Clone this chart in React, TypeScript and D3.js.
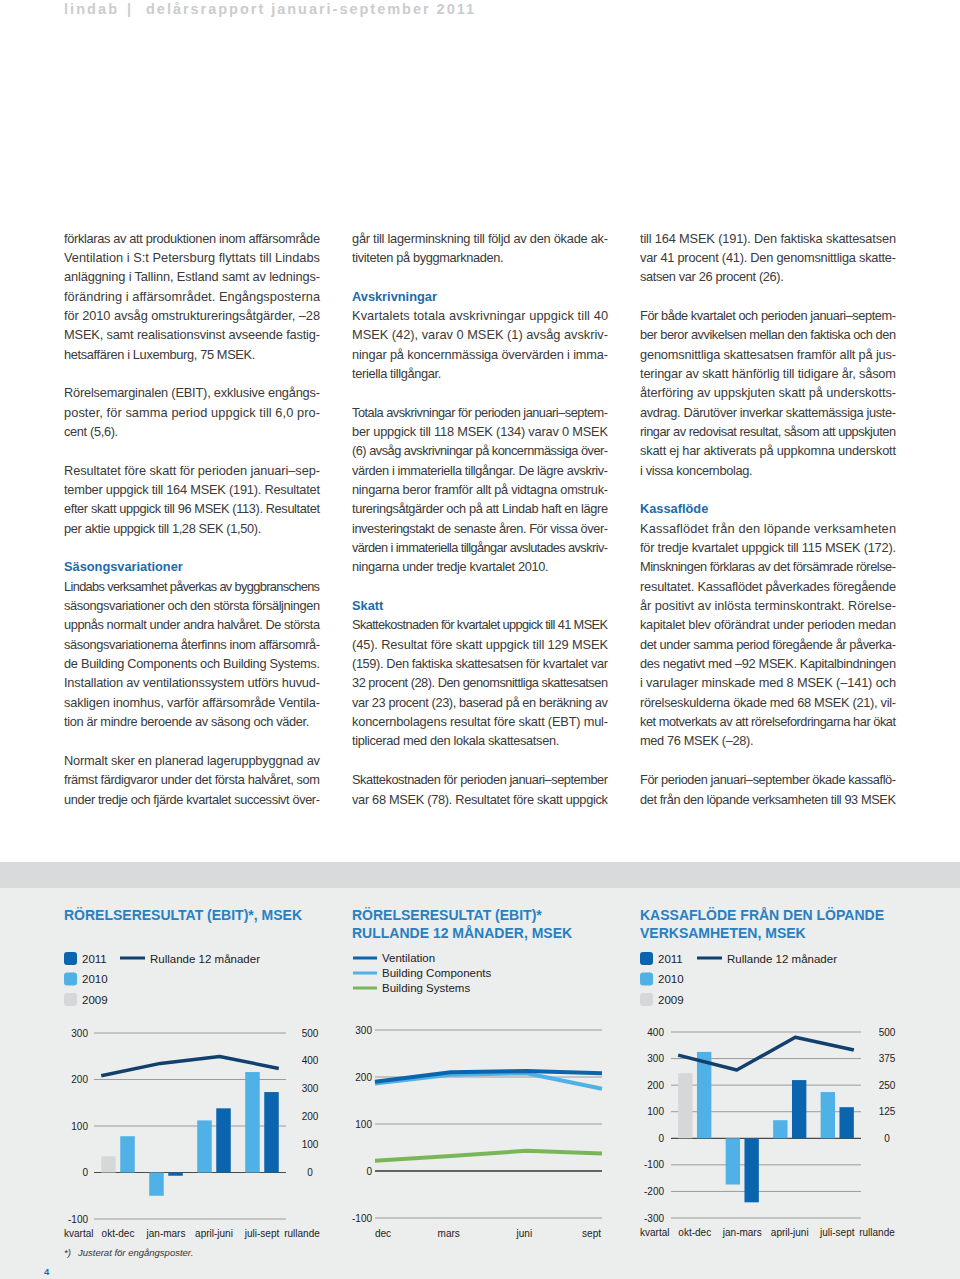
import React from "react";
import * as d3 from "d3";

// ---- chart data ----
const quarters = ["okt-dec", "jan-mars", "april-juni", "juli-sept"];

const ebit2009 = [35, null, null, null];
const ebit2010 = [78, -50, 112, 216];
const ebit2011 = [null, -7, 138, 173];
const ebitRolling = [347, 391, 416, 373];
const ebitLeftTicks = [-100, 0, 100, 200, 300];
const ebitRightTicks = [0, 100, 200, 300, 400, 500];

const months = ["dec", "mars", "juni", "sept"];
const ventilation = [190, 210, 213, 208];
const buildingComponents = [186, 205, 208, 175];
const buildingSystems = [22, 32, 43, 37];
const segmentTicks = [-100, 0, 100, 200, 300];

const cf2009 = [245, null, null, null];
const cf2010 = [325, -174, 68, 174];
const cf2011 = [null, -241, 219, 117];
const cfRolling = [391, 321, 475, 415];
const cfLeftTicks = [-300, -200, -100, 0, 100, 200, 300, 400];
const cfRightTicks = [0, 125, 250, 375, 500];

const yearLabels = ["2011", "2010", "2009"];
const segmentLabels = ["Ventilation", "Building Components", "Building Systems"];

const C2011 = "#0a65ae";
const C2010 = "#4fb1e6";
const C2009 = "#d6d7d9";
const ROLL = "#123f6e";
const GREEN = "#79b658";
const TITLE = "#2680c2";
const HEAD = "#1c6bad";
const FONT = "'Liberation Sans', Arial, sans-serif";

// ---- body text ----
const col1 = [
  "förklaras av att produktionen inom affärsområde",
  "Ventilation i S:t Petersburg flyttats till Lindabs",
  "anläggning i Tallinn, Estland samt av lednings-",
  "förändring i affärsområdet. Engångsposterna",
  "för 2010 avsåg omstruktureringsåtgärder, –28",
  "MSEK, samt realisationsvinst avseende fastig-",
  "hetsaffären i Luxemburg, 75 MSEK.",
  "",
  "Rörelsemarginalen (EBIT), exklusive engångs-",
  "poster, för samma period uppgick till 6,0 pro-",
  "cent (5,6).",
  "",
  "Resultatet före skatt för perioden januari–sep-",
  "tember uppgick till 164 MSEK (191). Resultatet",
  "efter skatt uppgick till 96 MSEK (113). Resultatet",
  "per aktie uppgick till 1,28 SEK (1,50).",
  "",
  "##Säsongsvariationer",
  "Lindabs verksamhet påverkas av byggbranschens",
  "säsongsvariationer och den största försäljningen",
  "uppnås normalt under andra halvåret. De största",
  "säsongsvariationerna återfinns inom affärsområ-",
  "de Building Components och Building Systems.",
  "Installation av ventilationssystem utförs huvud-",
  "sakligen inomhus, varför affärsområde Ventila-",
  "tion är mindre beroende av säsong och väder.",
  "",
  "Normalt sker en planerad lageruppbyggnad av",
  "främst färdigvaror under det första halvåret, som",
  "under tredje och fjärde kvartalet successivt över-",
];

const col2 = [
  "går till lagerminskning till följd av den ökade ak-",
  "tiviteten på byggmarknaden.",
  "",
  "##Avskrivningar",
  "Kvartalets totala avskrivningar uppgick till 40",
  "MSEK (42), varav 0 MSEK (1) avsåg avskriv-",
  "ningar på koncernmässiga övervärden i imma-",
  "teriella tillgångar.",
  "",
  "Totala avskrivningar för perioden januari–septem-",
  "ber uppgick till 118 MSEK (134) varav 0 MSEK",
  "(6) avsåg avskrivningar på koncernmässiga över-",
  "värden i immateriella tillgångar. De lägre avskriv-",
  "ningarna beror framför allt på vidtagna omstruk-",
  "tureringsåtgärder och på att Lindab haft en lägre",
  "investeringstakt de senaste åren. För vissa över-",
  "värden i immateriella tillgångar avslutades avskriv-",
  "ningarna under tredje kvartalet 2010.",
  "",
  "##Skatt",
  "Skattekostnaden för kvartalet uppgick till 41 MSEK",
  "(45). Resultat före skatt uppgick till 129 MSEK",
  "(159). Den faktiska skattesatsen för kvartalet var",
  "32 procent (28). Den genomsnittliga skattesatsen",
  "var 23 procent (23), baserad på en beräkning av",
  "koncernbolagens resultat före skatt (EBT) mul-",
  "tiplicerad med den lokala skattesatsen.",
  "",
  "Skattekostnaden för perioden januari–september",
  "var 68 MSEK (78). Resultatet före skatt uppgick",
];

const col3 = [
  "till 164 MSEK (191). Den faktiska skattesatsen",
  "var 41 procent (41). Den genomsnittliga skatte-",
  "satsen var 26 procent (26).",
  "",
  "För både kvartalet och perioden januari–septem-",
  "ber beror avvikelsen mellan den faktiska och den",
  "genomsnittliga skattesatsen framför allt på jus-",
  "teringar av skatt hänförlig till tidigare år, såsom",
  "återföring av uppskjuten skatt på underskotts-",
  "avdrag. Därutöver inverkar skattemässiga juste-",
  "ringar av redovisat resultat, såsom att uppskjuten",
  "skatt ej har aktiverats på uppkomna underskott",
  "i vissa koncernbolag.",
  "",
  "##Kassaflöde",
  "Kassaflödet från den löpande verksamheten",
  "för tredje kvartalet uppgick till 115 MSEK (172).",
  "Minskningen förklaras av det försämrade rörelse-",
  "resultatet. Kassaflödet påverkades föregående",
  "år positivt av inlösta terminskontrakt. Rörelse-",
  "kapitalet blev oförändrat under perioden medan",
  "det under samma period föregående år påverka-",
  "des negativt med –92 MSEK. Kapitalbindningen",
  "i varulager minskade med 8 MSEK (–141) och",
  "rörelseskulderna ökade med 68 MSEK (21), vil-",
  "ket motverkats av att rörelsefordringarna har ökat",
  "med 76 MSEK (–28).",
  "",
  "För perioden januari–september ökade kassaflö-",
  "det från den löpande verksamheten till 93 MSEK",
];

const LINE_H = 19.345;
const BASE_Y = 242.5;
const COL_W = 256;

const TextColumn = ({ x, lines }: { x: number; lines: string[] }) => (
  <g fontFamily={FONT} fontSize={12.8} fill="#3a3a3a">
    {lines.map((line, i) => {
      if (!line) return null;
      const y = BASE_Y + i * LINE_H;
      if (line.startsWith("##")) {
        return (
          <text key={i} x={x} y={y} fontWeight="bold" fill={HEAD}>
            {line.slice(2)}
          </text>
        );
      }
      const next = lines[i + 1];
      const justified = next === undefined || next !== "";
      return justified ? (
        <text key={i} x={x} y={y} textLength={COL_W} lengthAdjust="spacing">
          {line}
        </text>
      ) : (
        <text key={i} x={x} y={y} letterSpacing={-0.35}>
          {line}
        </text>
      );
    })}
  </g>
);

type ComboProps = {
  left: number;
  right: number;
  yTop: number;
  yBottom: number;
  leftTicks: number[];
  rightTicks: number[];
  v2009: (number | null)[];
  v2010: (number | null)[];
  v2011: (number | null)[];
  rolling: number[];
  leftLabelX: number;
  rightLabelX: number;
  kvartalX: number;
  rullandeX: number;
  xLabelY: number;
};

const ComboChart = (p: ComboProps) => {
  const y = d3
    .scaleLinear()
    .domain(d3.extent(p.leftTicks) as [number, number])
    .range([p.yBottom, p.yTop]);
  const yR = d3
    .scaleLinear()
    .domain(d3.extent(p.rightTicks) as [number, number])
    .range([y(0), p.yTop]);
  const x = d3.scaleBand().domain(quarters).range([p.left, p.right]);
  const sub = d3
    .scaleBand()
    .domain(["a", "b"])
    .range([0, x.bandwidth()])
    .paddingInner(0.237)
    .paddingOuter(0.38);
  const xLine = d3
    .scalePoint()
    .domain(quarters)
    .range([
      (x(quarters[0]) as number) + (sub("a") as number),
      (x(quarters[3]) as number) + (sub("b") as number) + sub.bandwidth(),
    ]);
  const line = d3
    .line<number>()
    .x((_, i) => xLine(quarters[i]) as number)
    .y((d) => yR(d));

  return (
    <g fontFamily={FONT} fontSize={10} fill="#222">
      {p.leftTicks.map((t) => (
        <g key={t}>
          <line
            x1={p.left}
            x2={p.right}
            y1={y(t)}
            y2={y(t)}
            stroke={t === 0 ? "#4a4a4a" : "#9b9b9b"}
            strokeWidth={t === 0 ? 1.2 : 1}
          />
          <text x={p.leftLabelX} y={y(t) + 3.5} textAnchor="end">
            {t}
          </text>
        </g>
      ))}
      {p.rightTicks.map((t) => (
        <text key={t} x={p.rightLabelX} y={yR(t) + 3.5} textAnchor="middle">
          {t}
        </text>
      ))}
      {quarters.map((q, i) => {
        const bars = [
          { v: p.v2009[i], c: C2009 },
          { v: p.v2010[i], c: C2010 },
          { v: p.v2011[i], c: C2011 },
        ].filter((b) => b.v !== null) as { v: number; c: string }[];
        return bars.map((b, j) => (
          <rect
            key={q + j}
            x={(x(q) as number) + (sub(j === 0 ? "a" : "b") as number)}
            width={sub.bandwidth()}
            y={Math.min(y(b.v), y(0))}
            height={Math.abs(y(b.v) - y(0))}
            fill={b.c}
          />
        ));
      })}
      <path
        d={line(p.rolling) || ""}
        fill="none"
        stroke={ROLL}
        strokeWidth={3.5}
        strokeLinejoin="round"
      />
      <text x={p.kvartalX} y={p.xLabelY}>
        kvartal
      </text>
      {quarters.map((q) => (
        <text
          key={q}
          x={(x(q) as number) + x.bandwidth() / 2}
          y={p.xLabelY}
          textAnchor="middle"
        >
          {q}
        </text>
      ))}
      <text x={p.rullandeX} y={p.xLabelY} textAnchor="middle">
        rullande
      </text>
    </g>
  );
};

const YearLegend = ({ x, lineX }: { x: number; lineX: number }) => {
  const colors = [C2011, C2010, C2009];
  return (
    <g fontFamily={FONT} fontSize={11.5} fill="#222">
      {yearLabels.map((yl, i) => (
        <g key={yl}>
          <rect x={x} y={952 + i * 20.5} width={13} height={13} rx={3} fill={colors[i]} />
          <text x={x + 18} y={962.5 + i * 20.5}>
            {yl}
          </text>
        </g>
      ))}
      <line x1={lineX} x2={lineX + 25} y1={958} y2={958} stroke={ROLL} strokeWidth={3} />
      <text x={lineX + 30} y={962.5}>
        Rullande 12 månader
      </text>
    </g>
  );
};

const SegmentChart = () => {
  const y = d3
    .scaleLinear()
    .domain(d3.extent(segmentTicks) as [number, number])
    .range([1218, 1030]);
  const x = d3.scalePoint().domain(months).range([375, 602]);
  const line = d3
    .line<number>()
    .x((_, i) => x(months[i]) as number)
    .y((d) => y(d));
  const series = [
    { values: buildingSystems, c: GREEN },
    { values: buildingComponents, c: C2010 },
    { values: ventilation, c: C2011 },
  ];
  const anchors = ["start", "middle", "middle", "end"];
  return (
    <g fontFamily={FONT} fontSize={10} fill="#222">
      {segmentTicks.map((t) => (
        <g key={t}>
          <line
            x1={375}
            x2={602}
            y1={y(t)}
            y2={y(t)}
            stroke={t === 0 ? "#333" : "#9b9b9b"}
            strokeWidth={t === 0 ? 1.3 : 1}
          />
          <text x={372} y={y(t) + 3.5} textAnchor="end">
            {t}
          </text>
        </g>
      ))}
      {series.map((s, i) => (
        <path
          key={i}
          d={line(s.values) || ""}
          fill="none"
          stroke={s.c}
          strokeWidth={4}
          strokeLinejoin="round"
        />
      ))}
      {months.map((m, i) => (
        <text
          key={m}
          x={(x(m) as number) + (i === 0 ? 0 : i === 3 ? -1 : -2)}
          y={1236.5}
          textAnchor={anchors[i]}
        >
          {m}
        </text>
      ))}
    </g>
  );
};

export default function App() {
  const segColors = [C2011, C2010, GREEN];
  return (
    <svg
      width={960}
      height={1279}
      style={{ position: "absolute", left: 0, top: 0 }}
    >
      <rect x={0} y={0} width={960} height={1279} fill="#fff" />
      {/* header */}
      <g fontFamily={FONT} fontSize={14.5} fontWeight="bold" fill="#cbcccd">
        <text x={64} y={13.5} textLength={53}>lindab</text>
        <text x={127} y={13.5}>|</text>
        <text x={146} y={13.5} textLength={328}>
          delårsrapport januari-september 2011
        </text>
      </g>

      <TextColumn x={64} lines={col1} />
      <TextColumn x={352} lines={col2} />
      <TextColumn x={640} lines={col3} />

      {/* chart panel */}
      <rect x={0} y={862} width={960} height={26} fill="#d9dadb" />
      <rect x={0} y={888} width={960} height={391} fill="#eceded" />

      <g fontFamily={FONT} fontSize={14} fontWeight="bold" fill={TITLE}>
        <text x={64} y={919.5}>RÖRELSERESULTAT (EBIT)*, MSEK</text>
        <text x={352} y={919.5}>RÖRELSERESULTAT (EBIT)*</text>
        <text x={352} y={937.5}>RULLANDE 12 MÅNADER, MSEK</text>
        <text x={640} y={919.5}>KASSAFLÖDE FRÅN DEN LÖPANDE</text>
        <text x={640} y={937.5}>VERKSAMHETEN, MSEK</text>
      </g>

      <YearLegend x={64} lineX={120} />
      <YearLegend x={640} lineX={697} />

      <g fontFamily={FONT} fontSize={11.5} fill="#222">
        {segmentLabels.map((s, i) => (
          <g key={s}>
            <line
              x1={353}
              x2={377}
              y1={958 + i * 15}
              y2={958 + i * 15}
              stroke={segColors[i]}
              strokeWidth={3}
            />
            <text x={382} y={962 + i * 15}>
              {s}
            </text>
          </g>
        ))}
      </g>

      <ComboChart
        left={94}
        right={286}
        yTop={1033}
        yBottom={1219}
        leftTicks={ebitLeftTicks}
        rightTicks={ebitRightTicks}
        v2009={ebit2009}
        v2010={ebit2010}
        v2011={ebit2011}
        rolling={ebitRolling}
        leftLabelX={88}
        rightLabelX={310}
        kvartalX={64}
        rullandeX={302}
        xLabelY={1236.5}
      />
      <SegmentChart />
      <ComboChart
        left={671}
        right={861}
        yTop={1032}
        yBottom={1218}
        leftTicks={cfLeftTicks}
        rightTicks={cfRightTicks}
        v2009={cf2009}
        v2010={cf2010}
        v2011={cf2011}
        rolling={cfRolling}
        leftLabelX={664}
        rightLabelX={887}
        kvartalX={640}
        rullandeX={877}
        xLabelY={1235.5}
      />

      {/* footnote & page number */}
      <g fontFamily={FONT} fontSize={9.5} fontStyle="italic" fill="#333">
        <text x={64} y={1255.5}>*)</text>
        <text x={78} y={1255.5}>Justerat för engångsposter.</text>
      </g>
      <text x={44} y={1275} fontFamily={FONT} fontSize={9.5} fontWeight="bold" fill={HEAD}>
        4
      </text>
    </svg>
  );
}
